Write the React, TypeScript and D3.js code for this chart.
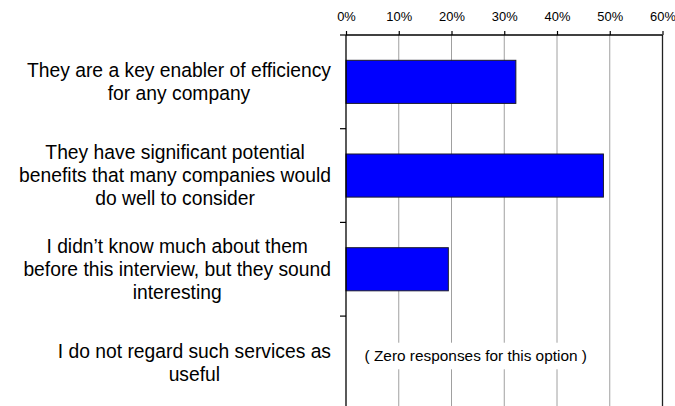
import React, { useEffect, useRef } from "react";
import * as d3 from "d3";

const categories: string[][] = [
  ["They are a key enabler of efficiency", "for any company"],
  ["They have significant potential", "benefits that many companies would", "do well to consider"],
  ["I didn\u2019t know much about them", "before this interview, but they sound", "interesting"],
  ["I do not regard such services as", "useful"],
];
const values: number[] = [32.2, 48.8, 19.4, 0];
const xTicks: number[] = [0, 10, 20, 30, 40, 50, 60];
const zeroNote = "( Zero responses for this option )";

const W = 675;
const H = 406;
const FONT = "'Liberation Sans', Arial, Helvetica, sans-serif";

export default function App() {
  const ref = useRef<SVGSVGElement | null>(null);

  useEffect(() => {
    const svg = d3.select(ref.current);
    svg.selectAll("*").remove();

    const left = 346;
    const right = 662.5;
    const top = 35;
    const bottom = 409.8;

    const x = d3.scaleLinear().domain([0, 60]).range([left, right]);
    const idx = categories.map((_, i) => String(i));
    const yCat = d3.scaleBand().domain(idx).range([top, bottom]).padding(0);
    const yBar = d3.scaleBand().domain(idx).range([top, bottom]).paddingInner(0.54).paddingOuter(0.27);

    // gridlines
    svg.append("g")
      .selectAll("line")
      .data(xTicks.filter((t) => t > 0 && t < 60))
      .join("line")
      .attr("x1", (d) => x(d)).attr("x2", (d) => x(d))
      .attr("y1", top).attr("y2", H + 10)
      .attr("stroke", "#a0a0a0").attr("stroke-width", 1);

    // zero note background and text
    const noteX = x(24.6);
    svg.append("rect")
      .attr("x", noteX - 118).attr("y", 342.7)
      .attr("width", 236).attr("height", 26.6)
      .attr("fill", "#fff");
    svg.append("text")
      .attr("x", noteX).attr("y", 361)
      .attr("text-anchor", "middle")
      .attr("font-family", FONT).attr("font-size", 15.4)
      .attr("fill", "#000")
      .text(zeroNote);

    // bars
    svg.append("g")
      .selectAll("rect")
      .data(values)
      .join("rect")
      .filter((d) => d > 0)
      .attr("x", x(0))
      .attr("y", (_, i) => yBar(String(i)) as number)
      .attr("width", (d) => x(d) - x(0))
      .attr("height", yBar.bandwidth())
      .attr("fill", "#0000ff")
      .attr("stroke", "#1a1a2a")
      .attr("stroke-width", 1);

    // right border
    svg.append("line")
      .attr("x1", right).attr("x2", right)
      .attr("y1", top).attr("y2", H + 10)
      .attr("stroke", "#222").attr("stroke-width", 1.3);

    // top axis
    const xAxis = d3.axisTop(x).tickValues(xTicks).tickSize(4).tickPadding(10)
      .tickFormat((d) => `${d}%`);
    const gx = svg.append("g").attr("transform", `translate(0,${top})`).call(xAxis);
    gx.select(".domain").attr("stroke", "#000").attr("stroke-width", 1.3).attr("d", `M${left},0H${right}`);
    gx.selectAll(".tick line").attr("stroke", "#000").attr("stroke-width", 1.2);
    gx.selectAll(".tick text").attr("font-family", FONT).attr("font-size", 12.9).attr("fill", "#000").attr("dy", 0);

    // left axis
    const gy = svg.append("g");
    gy.append("line")
      .attr("x1", left).attr("x2", left).attr("y1", top).attr("y2", H + 10)
      .attr("stroke", "#000").attr("stroke-width", 1.3);
    const bounds = idx.map((d) => yCat(d) as number).concat([bottom]);
    gy.selectAll("line.tk")
      .data(bounds)
      .join("line")
      .attr("class", "tk")
      .attr("x1", left - 6).attr("x2", left)
      .attr("y1", (d) => d).attr("y2", (d) => d)
      .attr("stroke", "#000").attr("stroke-width", 1.2);

    // category labels: centered lines, block right-aligned
    const lineH = 23;
    const labelRight = 331;
    categories.forEach((lines, i) => {
      const cy = (yCat(String(i)) as number) + yCat.bandwidth() / 2;
      const g = svg.append("g");
      const texts = lines.map((ln, j) =>
        g.append("text")
          .attr("font-family", FONT).attr("font-size", 19.3)
          .attr("fill", "#000")
          .attr("text-anchor", "middle")
          .attr("y", cy + (j - (lines.length - 1) / 2) * lineH + 6.9)
          .text(ln)
      );
      const maxW = d3.max(texts, (t) => (t.node() as SVGTextElement).getComputedTextLength()) || 0;
      texts.forEach((t) => t.attr("x", labelRight - maxW / 2));
    });
  }, []);

  return (
    <svg
      ref={ref}
      width={W}
      height={H}
      style={{ position: "absolute", left: 0, top: 0, background: "#fff" }}
    />
  );
}
